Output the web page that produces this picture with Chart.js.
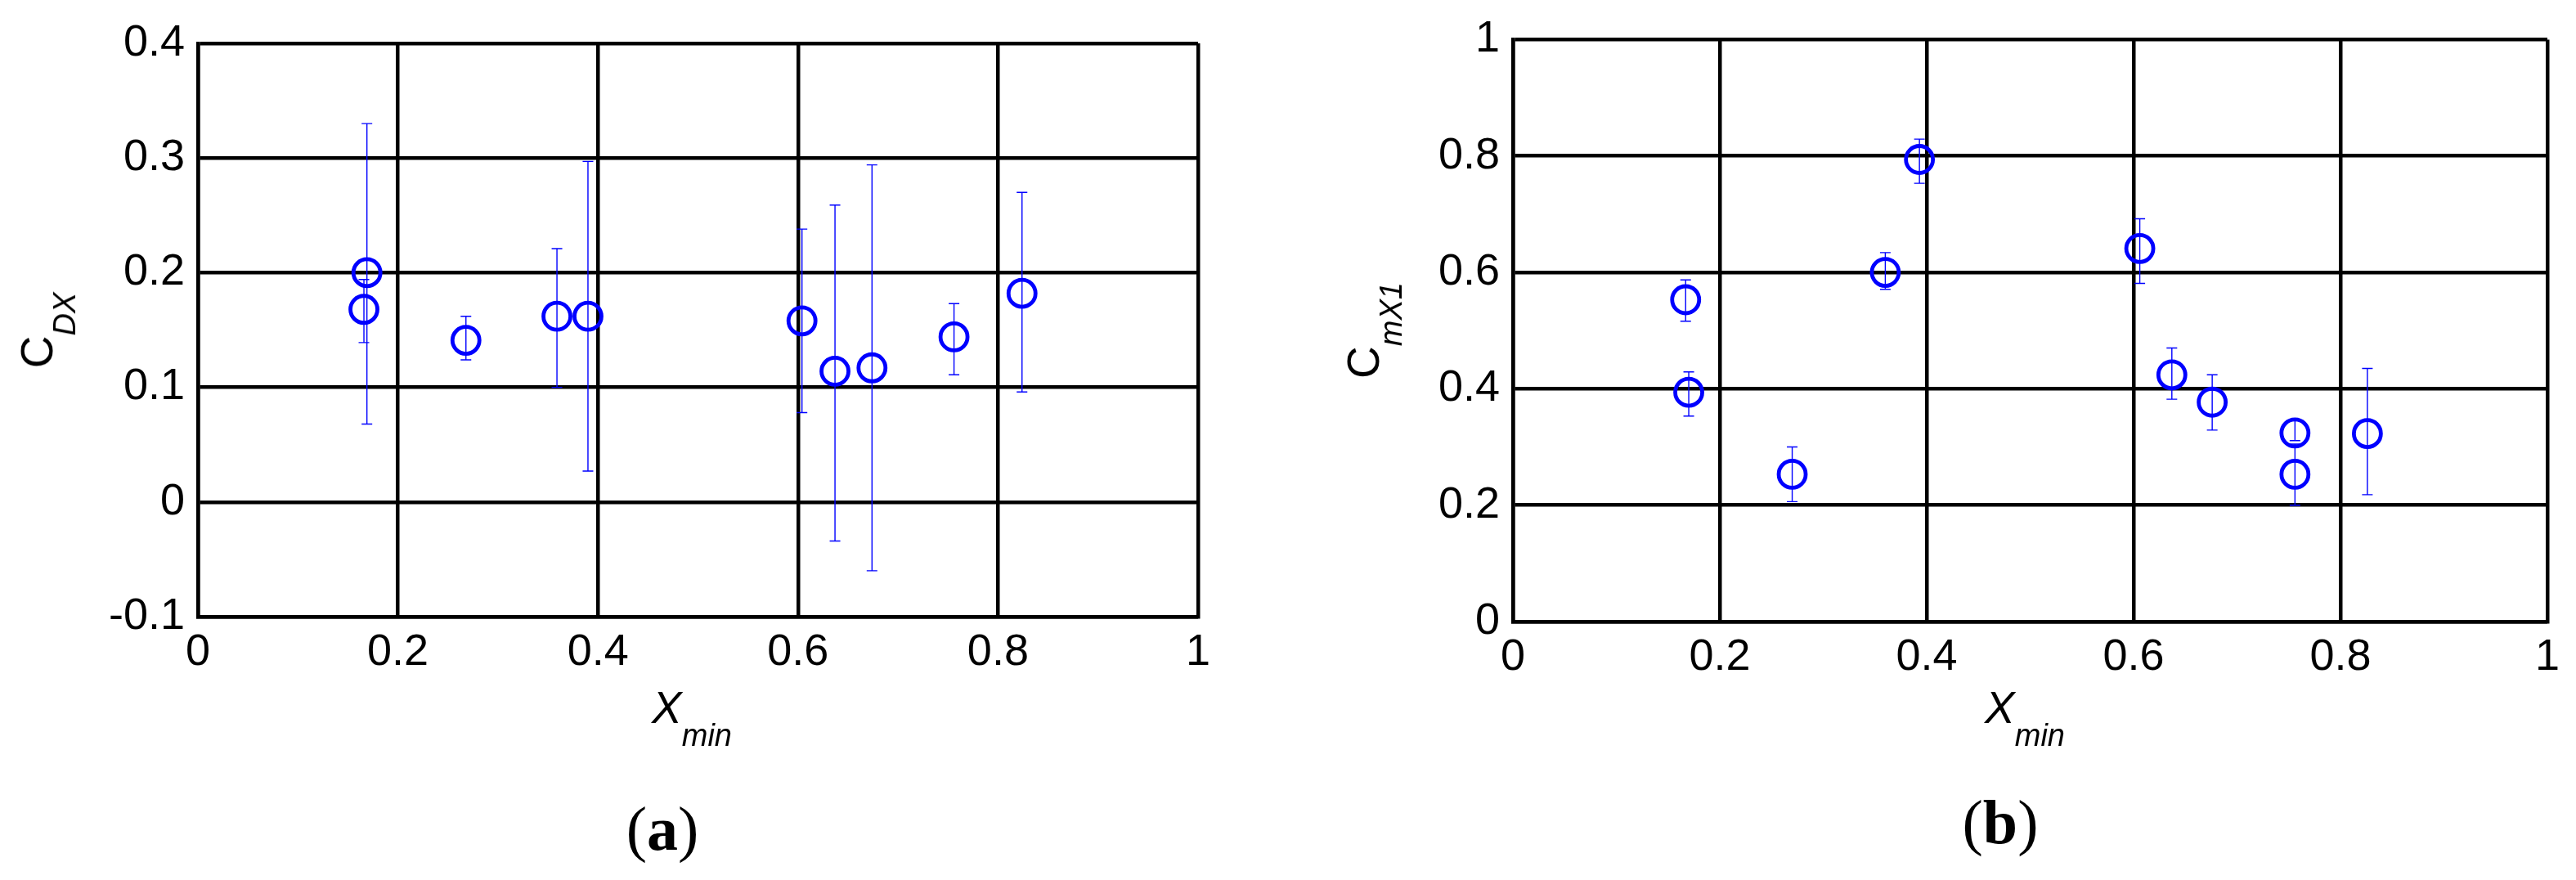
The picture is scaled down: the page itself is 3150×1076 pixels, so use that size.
<!DOCTYPE html>
<html>
<head>
<meta charset="utf-8">
<title>C_DX e C_mX1 versus X_min</title>
<script src="https://cdn.jsdelivr.net/npm/chart.js@4.4.1/dist/chart.umd.min.js"></script>
<style>
    html, body { margin: 0; padding: 0; background: #fff; }
    #page { position: relative; width: 3150px; height: 1076px; overflow: hidden; }
    canvas { position: absolute; top: 0; }
    #chartA { left: 0; }
    #chartB { left: 1560px; }
    .title { position: absolute; font-family: 'Liberation Sans', Arial, sans-serif; font-size: 55px; color: #000; white-space: nowrap; line-height: 1; }
    .title sub { font-size: 38px; font-style: italic; vertical-align: -28px; line-height: 1; }
    .xtitle { transform: translate(-50%, 0); }
    .xtitle i { font-style: italic; }
    .ytitle { transform: translate(-50%, -50%) rotate(-90deg); }
    .caption { position: absolute; font-family: 'Liberation Serif', 'Times New Roman', serif; font-size: 76px; color: #000; transform: translate(-50%, 0); line-height: 1; white-space: nowrap; }
</style>
</head>
<body>
<div id="page">
    <canvas id="chartA" width="1560" height="1076"></canvas>
    <canvas id="chartB" width="1590" height="1076"></canvas>

    <div class="title ytitle" style="left:58px; top:404px;">C<sub>DX</sub></div>
    <div class="title xtitle" style="left:846px; top:838px;"><i>X</i><sub>min</sub></div>
    <div class="caption" style="left:810px; top:975px;">(<b>a</b>)</div>

    <div class="title ytitle" style="left:1680px; top:404px;">C<sub>mX1</sub></div>
    <div class="title xtitle" style="left:2476px; top:838px;"><i>X</i><sub>min</sub></div>
    <div class="caption" style="left:2446px; top:967px;">(<b>b</b>)</div>
</div>

<script>
// ==================================================
// 1. DADOS
// ==================================================
// (a) C_DX
const xminA = [0.169, 0.166, 0.268, 0.359, 0.390, 0.604, 0.637, 0.674, 0.756, 0.824];
const cdxA  = [0.200, 0.168, 0.141, 0.162, 0.162, 0.158, 0.114, 0.117, 0.144, 0.182];
const cdxLo = [0.068, 0.139, 0.124, 0.100, 0.027, 0.078, -0.034, -0.060, 0.111, 0.096];
const cdxHi = [0.330, 0.194, 0.162, 0.221, 0.297, 0.238, 0.259, 0.294, 0.173, 0.270];

// (b) C_mX1
const xminB = [0.167, 0.170, 0.270, 0.360, 0.393, 0.606, 0.637, 0.676, 0.756, 0.756, 0.826];
const cmxB  = [0.553, 0.394, 0.253, 0.600, 0.794, 0.641, 0.424, 0.377, 0.324, 0.253, 0.323];
const cmxLo = [0.516, 0.353, 0.206, 0.571, 0.753, 0.581, 0.382, 0.329, 0.311, 0.200, 0.218];
const cmxHi = [0.587, 0.429, 0.300, 0.634, 0.829, 0.692, 0.470, 0.424, 0.347, 0.305, 0.435];

// ticks
const xTicks  = [0, 0.2, 0.4, 0.6, 0.8, 1];
const yTicksA = [-0.1, 0, 0.1, 0.2, 0.3, 0.4];
const yTicksB = [0, 0.2, 0.4, 0.6, 0.8, 1];

// ==================================================
// 2. ESTILO
// ==================================================
const BLUE = '#0000ff';
const TICK_FONT = { family: "'Liberation Sans', Arial, sans-serif", size: 54 };

// barras de erro desenhadas pela escala do próprio gráfico
function errorBarPlugin(xs, lo, hi) {
    return {
        id: 'errorBars',
        beforeDatasetsDraw(chart) {
            const { ctx, scales } = chart;
            const cap = 6.5;
            ctx.save();
            ctx.strokeStyle = BLUE;
            ctx.lineWidth = 1.4;
            xs.forEach((xv, i) => {
                const px = scales.x.getPixelForValue(xv);
                const pLo = scales.y.getPixelForValue(lo[i]);
                const pHi = scales.y.getPixelForValue(hi[i]);
                ctx.beginPath();
                ctx.moveTo(px, pLo); ctx.lineTo(px, pHi);
                ctx.moveTo(px - cap, pLo); ctx.lineTo(px + cap, pLo);
                ctx.moveTo(px - cap, pHi); ctx.lineTo(px + cap, pHi);
                ctx.stroke();
            });
            ctx.restore();
        }
    };
}

function axis(ticks, min, max, fit, pad) {
    return {
        type: 'linear',
        min: min,
        max: max,
        afterBuildTicks(scale) { scale.ticks = ticks.map(v => ({ value: v })); },
        afterFit: fit,
        ticks: {
            color: '#000',
            font: TICK_FONT,
            padding: pad,
            callback: v => String(Math.round(v * 10) / 10)
        },
        grid: { color: '#000', lineWidth: 4.5, drawTicks: false },
        border: { display: true, color: '#000', width: 4.5 }
    };
}

// ==================================================
// 3. GRÁFICOS
// ==================================================
function makeChart(id, xs, ys, lo, hi, yTicks, yMin, yMax, yWidth, padding) {
    return new Chart(document.getElementById(id), {
        type: 'scatter',
        data: {
            datasets: [{
                data: xs.map((x, i) => ({ x: x, y: ys[i] })),
                pointStyle: 'circle',
                pointRadius: 16.5,
                pointHoverRadius: 16.5,
                borderWidth: 4.8,
                borderColor: BLUE,
                backgroundColor: 'rgba(0,0,0,0)',
                showLine: false
            }]
        },
        options: {
            responsive: false,
            animation: false,
            devicePixelRatio: 1,
            layout: { padding: padding },
            plugins: { legend: { display: false }, tooltip: { enabled: false } },
            scales: {
                x: axis(xTicks, 0, 1, s => { s.height = 60; }, 12),
                y: axis(yTicks, yMin, yMax, s => { s.width = yWidth; }, 16)
            }
        },
        plugins: [errorBarPlugin(xs, lo, hi)]
    });
}

makeChart('chartA', xminA, cdxA, cdxLo, cdxHi, yTicksA, -0.1, 0.4, 242,
    { left: 0, top: 53, right: 95, bottom: 262 });
makeChart('chartB', xminB, cmxB, cmxLo, cmxHi, yTicksB, 0, 1, 290,
    { left: 0, top: 45, right: 35, bottom: 256 });
</script>
</body>
</html>
